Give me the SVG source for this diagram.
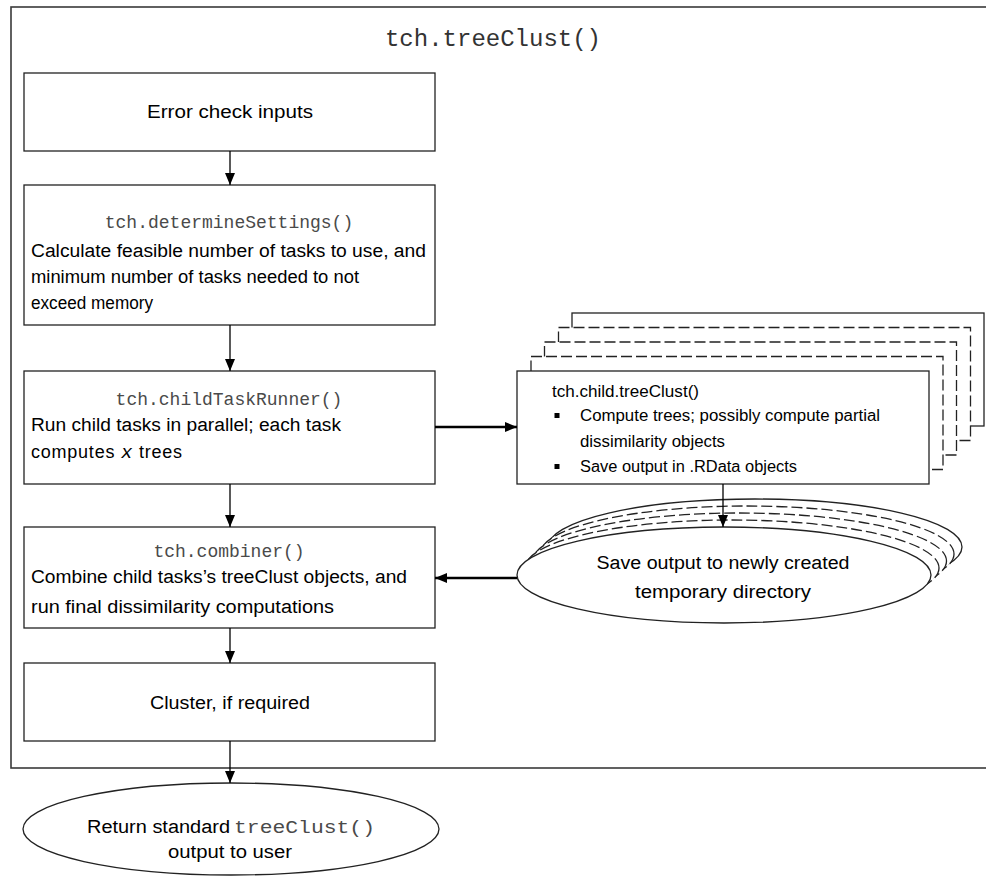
<svg xmlns="http://www.w3.org/2000/svg" width="986" height="880" viewBox="0 0 986 880">
  <style>
    .frame { fill: none; stroke: #3a3a3a; stroke-width: 1.6; }
    .box { fill: #ffffff; stroke: #222222; stroke-width: 1.3; }
    .dash { stroke-dasharray: 11 4; }
    .body { font-family: "Liberation Sans", Arial, sans-serif; font-size: 18px; fill: #000000; }
    .small { font-family: "Liberation Sans", Arial, sans-serif; font-size: 16px; fill: #000000; }
    .mono { font-family: "Liberation Mono", "Courier New", monospace; font-size: 18px; fill: #4a4a4a; }
    .title { font-family: "Liberation Mono", "Courier New", monospace; font-size: 24px; fill: #333333; }
    .conn { fill: none; stroke: #000000; stroke-width: 1.3; }
    .thick { fill: none; stroke: #000000; stroke-width: 2.4; }
  </style>
  <defs>
    <marker id="head" markerUnits="userSpaceOnUse" markerWidth="12" markerHeight="12" viewBox="0 0 12 12" refX="12" refY="6" orient="auto">
      <path d="M0,1 L12,6 L0,11 Z" fill="#000000"/>
    </marker>
  </defs>

  <!-- outer function frame -->
  <g id="frame">
    <rect class="frame" x="11" y="7" width="1000" height="761"/>
    <text class="title" x="493" y="46" text-anchor="middle">tch.treeClust()</text>
  </g>

  <!-- main sequence -->
  <g id="error-check">
    <rect class="box" x="24" y="73" width="411" height="78"/>
    <text class="body" x="230" y="118" text-anchor="middle" textLength="166" lengthAdjust="spacingAndGlyphs">Error check inputs</text>
  </g>

  <g id="determine-settings">
    <rect class="box" x="24" y="185" width="411" height="140"/>
    <text class="mono" x="229" y="228" text-anchor="middle">tch.determineSettings()</text>
    <text class="body" x="31" y="257" textLength="395" lengthAdjust="spacingAndGlyphs">Calculate feasible number of tasks to use, and</text>
    <text class="body" x="31" y="283" textLength="328" lengthAdjust="spacingAndGlyphs">minimum number of tasks needed to not</text>
    <text class="body" x="31" y="309" textLength="122" lengthAdjust="spacingAndGlyphs">exceed memory</text>
  </g>

  <g id="child-task-runner">
    <rect class="box" x="24" y="371" width="411" height="113"/>
    <text class="mono" x="229" y="405" text-anchor="middle">tch.childTaskRunner()</text>
    <text class="body" x="31" y="431" textLength="310" lengthAdjust="spacingAndGlyphs">Run child tasks in parallel; each task</text>
    <text class="body" x="31" y="458" textLength="151" lengthAdjust="spacing">computes <tspan font-family="Liberation Mono, monospace" font-style="italic" font-size="19">x</tspan> trees</text>
  </g>

  <g id="combiner">
    <rect class="box" x="24" y="527" width="411" height="101"/>
    <text class="mono" x="229" y="557" text-anchor="middle">tch.combiner()</text>
    <text class="body" x="31" y="583" textLength="376" lengthAdjust="spacingAndGlyphs">Combine child tasks’s treeClust objects, and</text>
    <text class="body" x="31" y="613" textLength="303" lengthAdjust="spacingAndGlyphs">run final dissimilarity computations</text>
  </g>

  <g id="cluster">
    <rect class="box" x="24" y="663" width="411" height="78"/>
    <text class="body" x="230" y="709" text-anchor="middle" textLength="160" lengthAdjust="spacingAndGlyphs">Cluster, if required</text>
  </g>

  <g id="return-output">
    <ellipse class="box" cx="231" cy="829" rx="208" ry="46"/>
    <text class="body" x="87" y="833" textLength="143" lengthAdjust="spacingAndGlyphs">Return standard</text>
    <text class="mono" x="234" y="833" font-size="21" textLength="141" lengthAdjust="spacingAndGlyphs">treeClust()</text>
    <text class="body" x="230" y="858" text-anchor="middle" textLength="124" lengthAdjust="spacingAndGlyphs">output to user</text>
  </g>

  <!-- stack of parallel child tasks, back to front -->
  <g id="child-tree-clust">
    <rect class="box" x="572" y="313" width="412" height="113"/>
    <rect class="box dash" x="558.5" y="327.5" width="412" height="113"/>
    <rect class="box dash" x="544.5" y="342" width="412" height="113"/>
    <rect class="box dash" x="531" y="356.5" width="412" height="113"/>
    <rect class="box" x="517" y="371" width="412" height="113"/>
    <text class="small" x="552" y="397" textLength="147" lengthAdjust="spacingAndGlyphs">tch.child.treeClust()</text>
    <rect x="554.5" y="413" width="5" height="5" fill="#000000"/>
    <text class="small" x="580" y="421" textLength="300" lengthAdjust="spacingAndGlyphs">Compute trees; possibly compute partial</text>
    <text class="small" x="580" y="447" textLength="145" lengthAdjust="spacingAndGlyphs">dissimilarity objects</text>
    <rect x="554.5" y="464" width="5" height="5" fill="#000000"/>
    <text class="small" x="580" y="472" textLength="217" lengthAdjust="spacingAndGlyphs">Save output in .RData objects</text>
  </g>

  <!-- stack of temporary output stores, back to front -->
  <g id="temp-directory">
    <ellipse class="box" cx="755" cy="547" rx="207" ry="48"/>
    <ellipse class="box dash" cx="747" cy="554" rx="207" ry="48"/>
    <ellipse class="box dash" cx="739.5" cy="561" rx="207" ry="48"/>
    <ellipse class="box dash" cx="732" cy="568" rx="207" ry="48"/>
    <ellipse class="box" cx="724" cy="575" rx="207" ry="48"/>
    <text class="body" x="723" y="569" text-anchor="middle" textLength="253" lengthAdjust="spacingAndGlyphs">Save output to newly created</text>
    <text class="body" x="723" y="598" text-anchor="middle" textLength="176" lengthAdjust="spacingAndGlyphs">temporary directory</text>
  </g>

  <!-- connectors -->
  <g id="connectors">
    <line class="conn" x1="230" y1="151" x2="230" y2="185" marker-end="url(#head)"/>
    <line class="conn" x1="230" y1="325" x2="230" y2="371" marker-end="url(#head)"/>
    <line class="conn" x1="230" y1="484" x2="230" y2="527" marker-end="url(#head)"/>
    <line class="conn" x1="230" y1="628" x2="230" y2="663" marker-end="url(#head)"/>
    <line class="conn" x1="230" y1="741" x2="230" y2="783" marker-end="url(#head)"/>
    <line class="thick" x1="435" y1="427" x2="517" y2="427" marker-end="url(#head)"/>
    <line class="conn" x1="723" y1="484" x2="723" y2="527" stroke-width="1.8" marker-end="url(#head)"/>
    <line class="thick" x1="517" y1="578" x2="435" y2="578" marker-end="url(#head)"/>
  </g>
</svg>
